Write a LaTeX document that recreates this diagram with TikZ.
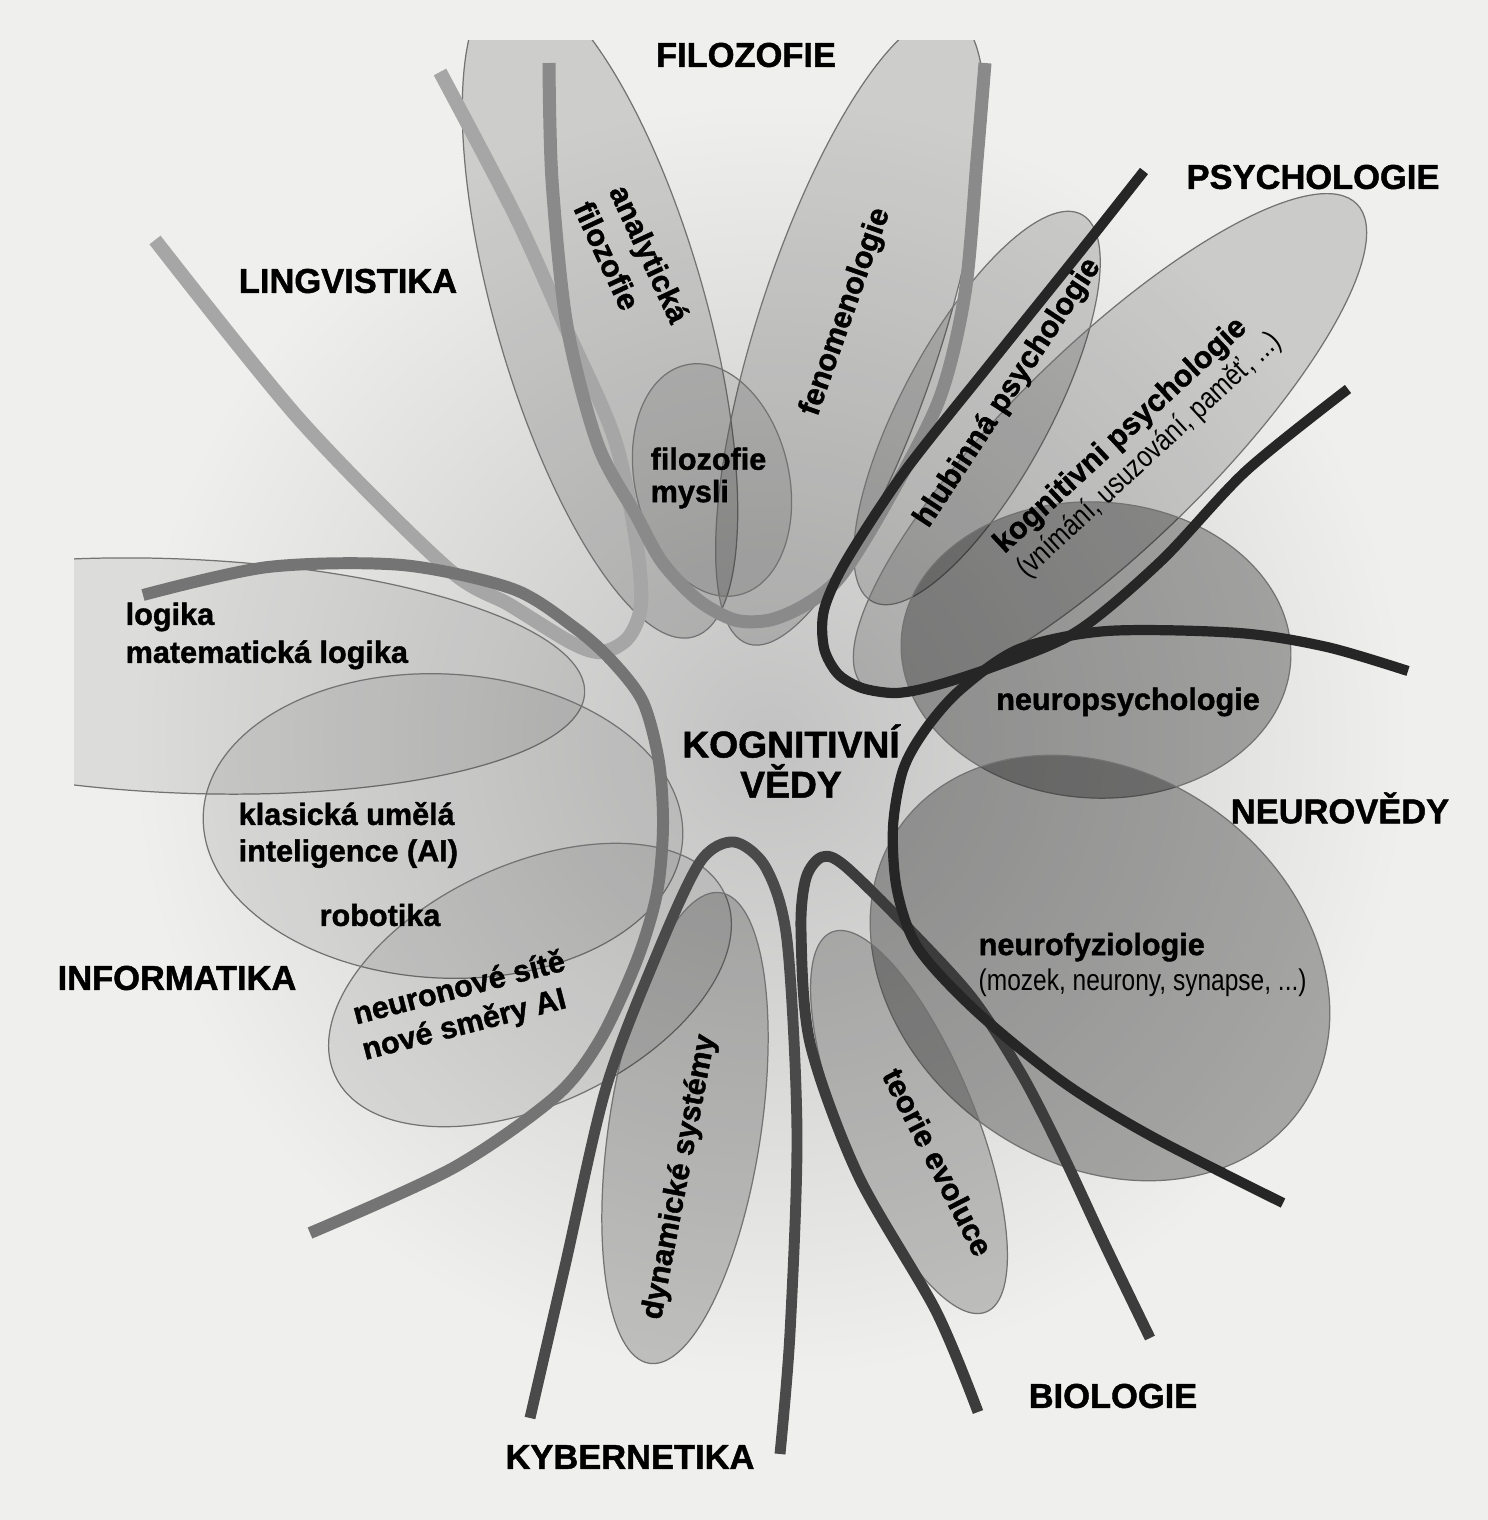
\documentclass[tikz,border=0pt]{standalone}
\usepackage{fontspec}
\setmainfont{Liberation Sans}[BoldFeatures={FakeBold=1.3}]
\newfontfamily\narrowfont[FakeStretch=0.82]{Liberation Sans}
\definecolor{paper}{HTML}{EFEFED}
\definecolor{blobgray}{HTML}{C2C2C2}
\definecolor{linglight}{HTML}{A6A6A6}
\definecolor{philmid}{HTML}{8A8A8A}
\definecolor{infomid}{HTML}{747474}
\definecolor{cyberdark}{HTML}{4A4A4A}
\definecolor{biodark}{HTML}{3C3C3C}
\definecolor{psyneuro}{HTML}{262626}

\begin{document}
\begin{tikzpicture}[x=0.01cm,y=-0.01cm]
  \tikzset{
    lobe/.style={draw=black!55,line width=0.35pt,fill=black},
    philobe/.style={lobe,fill opacity=0.14},
    psylobe/.style={lobe,fill opacity=0.15},
    neurolobe/.style={lobe,fill opacity=0.3},
    biolobe/.style={lobe,fill opacity=0.2},
    infolobe/.style={lobe,fill opacity=0.08},
    strand/.style={line width=#1,line join=round},
    heading/.style={font=\fontsize{9.8}{11}\selectfont\bfseries,inner sep=0pt},
    arealabel/.style={font=\fontsize{8.7}{10.4}\selectfont\bfseries,align=left,inner sep=0pt},
    notelabel/.style={font=\narrowfont\fontsize{8.5}{10.4}\selectfont,inner sep=0pt}
  }

  \useasboundingbox (0,0) rectangle (1488,1520);
  \clip (0,0) rectangle (1488,1520);
  \fill[paper] (0,0) rectangle (1488,1520);

  % soft grey haze round the centre
  \shade[inner color=blobgray,outer color=paper] (770,740) circle [radius=640];

  % informatika
  \begin{scope}
    \clip (74,0) rectangle (1488,1520);
    \draw[infolobe,rotate around={-2.4:(180,676)}] (180,676) ellipse [x radius=405,y radius=117];
  \end{scope}
  \draw[infolobe,rotate around={-3:(443,826)}] (443,826) ellipse [x radius=240,y radius=152];
  \draw[infolobe,rotate around={25:(530,985)}] (530,985) ellipse [x radius=215,y radius=120];

  % filozofie
  \begin{scope}
    \clip (0,40) rectangle (1488,1520);
    \draw[philobe,rotate around={106:(600,310)}] (600,310) ellipse [x radius=340,y radius=105];
    \draw[philobe,rotate around={72:(850,330)}] (850,330) ellipse [x radius=330,y radius=92];
  \end{scope}
  \draw[philobe,fill opacity=0.1,rotate around={103:(712,480)}] (712,480) ellipse [x radius=118,y radius=77];

  % psychologie
  \draw[psylobe,rotate around={61.6:(977,408)}] (977,408) ellipse [x radius=220,y radius=74];
  \draw[psylobe,rotate around={44.3:(1110,445)}] (1110,445) ellipse [x radius=345,y radius=100];

  % neurovedy
  \draw[neurolobe,rotate around={-3:(1096,650)}] (1096,650) ellipse [x radius=195,y radius=148];
  \draw[neurolobe,rotate around={-35:(1100,968)}] (1100,968) ellipse [x radius=245,y radius=195];

  % kybernetika and biologie
  \draw[biolobe,rotate around={81.4:(685,1128)}] (685,1128) ellipse [x radius=238,y radius=76];
  \draw[biolobe,rotate around={-67.9:(909,1122)}] (909,1122) ellipse [x radius=205,y radius=66];

  % the strands of each discipline
  \draw[strand=4pt,draw=linglight] plot[smooth] coordinates {(440,72) (515,215) (565,326) (614,437) (636,540) (641,605) (628,638) (602,652) (572,643) (510,605) (446,567) (300,420) (155,240)};
  \draw[strand=3.7pt,draw=philmid] plot[smooth] coordinates {(549,63) (552,180) (567,326) (598,445) (636,515) (662,562) (698,600) (735,620) (770,620) (805,605) (840,577) (884,507) (939,400) (965,293) (977,160) (985,63)};
  \draw[strand=3.4pt,draw=infomid] plot[smooth] coordinates {(143,595) (268,567) (402,565) (513,589) (575,628) (612,661) (643,702) (659,762) (663,827) (657,893) (637,960) (600,1040) (555,1097) (453,1168) (310,1233)};
  \draw[strand=3.1pt,draw=cyberdark] plot[smooth] coordinates {(530,1418) (565,1266) (606,1088) (657,954) (700,862) (734,842) (766,868) (787,940) (797,1133) (790,1333) (780,1454)};
  \draw[strand=3.1pt,draw=biodark] plot[smooth] coordinates {(978,1412) (936,1311) (858,1175) (810,1043) (801,930) (806,878) (822,857) (845,866) (912,932) (973,999) (1022,1075) (1063,1155) (1105,1245) (1150,1338)};
  \draw[strand=2.9pt,draw=psyneuro] plot[smooth] coordinates {(1144,171) (1076,257) (990,364) (905,471) (846,561) (824,610) (824,648) (838,674) (862,688) (895,693) (930,687) (990,668) (1076,632) (1161,561) (1246,471) (1348,389)};
  \draw[strand=2.9pt,draw=psyneuro] plot[smooth] coordinates {(1408,671) (1327,647) (1239,633) (1107,631) (1019,649) (960,690) (925,730) (903,770) (893,827) (897,890) (918,948) (976,1011) (1063,1082) (1151,1136) (1283,1203)};

  % discipline names
  \node[heading] (filo) at (746,55) {FILOZOFIE};
  \node[heading] (psycho) at (1313,177) {PSYCHOLOGIE};
  \node[heading] (lingv) at (348,281) {LINGVISTIKA};
  \node[heading] (neuro) at (1340,808) {NEUROVĚDY};
  \node[heading] (inform) at (177,978) {INFORMATIKA};
  \node[heading] (bio) at (1113,1396) {BIOLOGIE};
  \node[heading] (kyber) at (630,1457) {KYBERNETIKA};
  \node[font=\fontsize{10.6}{11.4}\selectfont\bfseries,align=center,inner sep=0pt] (core) at (791,761) {KOGNITIVNÍ\\VĚDY};

  % fields inside the lobes
  \node[arealabel,rotate=-65,font=\fontsize{8.7}{11.2}\selectfont\bfseries] (analyt) at (632,262) {analytická\\filozofie};
  \node[arealabel,rotate=70.6] (fenom) at (846,312) {fenomenologie};
  \node[arealabel,font=\fontsize{8.7}{9.2}\selectfont\bfseries,anchor=west] (mysl) at (650,478) {filozofie\\mysli};
  \node[arealabel,rotate=56.7] (hlub) at (1008,393) {hlubinná psychologie};
  \node[arealabel,rotate=42.7,font=\fontsize{8.7}{9.6}\selectfont\bfseries] (kogn) at (1138,443)
    {kognitivni psychologie\\{\narrowfont\mdseries\fontsize{8.5}{9.6}\selectfont(vnímání, usuzování, paměť, ...)}};
  \node[arealabel] (npsych) at (1128,702) {neuropsychologie};
  \node[arealabel,font=\fontsize{8.7}{10.2}\selectfont\bfseries,anchor=west] (nfyz) at (978,965)
    {neurofyziologie\\{\narrowfont\mdseries\fontsize{8.5}{10.2}\selectfont(mozek, neurony, synapse, ...)}};
  \node[arealabel,rotate=-62.9] (evol) at (938,1162) {teorie evoluce};
  \node[arealabel,rotate=79.2] (dynsys) at (680,1177) {dynamické systémy};
  \node[arealabel,anchor=west] (klasai) at (238,835) {klasická umělá\\inteligence (AI)};
  \node[arealabel] (robot) at (380,915) {robotika};
  \node[arealabel,rotate=14.5] (neurnet) at (464,1007) {neuronové sítě\\nové směry AI};
  \node[arealabel,font=\fontsize{8.7}{10.8}\selectfont\bfseries,anchor=west] (logic) at (125,636) {logika\\matematická logika};
\end{tikzpicture}
\end{document}
